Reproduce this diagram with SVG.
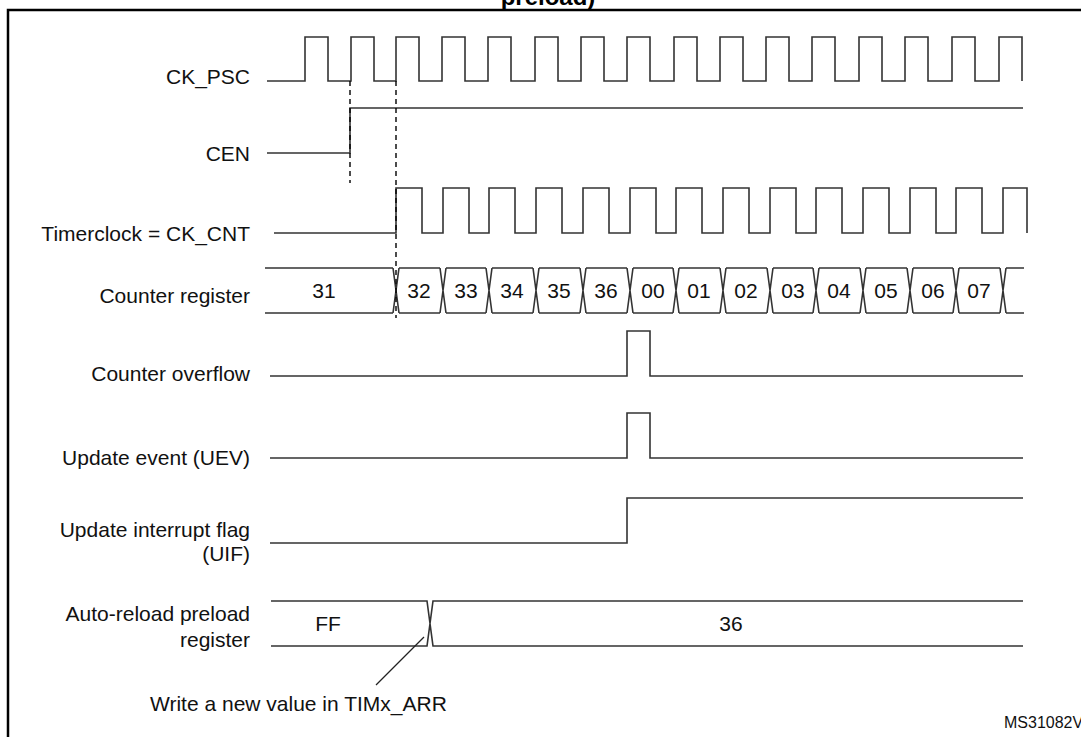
<svg xmlns="http://www.w3.org/2000/svg" width="1081" height="737" viewBox="0 0 1081 737">
<style>
.s{fill:none;stroke:#333;stroke-width:1.6}
.d{fill:none;stroke:#000;stroke-width:1.4;stroke-dasharray:5,4}
.l{font-family:"Liberation Sans",Arial,sans-serif;font-size:21px;fill:#111;text-anchor:end}
.v{font-family:"Liberation Sans",Arial,sans-serif;font-size:21px;fill:#111;text-anchor:middle}
</style>
<rect width="1081" height="737" fill="#fff"/>
<path d="M8 737V10H1081" fill="none" stroke="#000" stroke-width="2.5"/>
<text x="548" y="5" font-family="Liberation Sans,Arial,sans-serif" font-size="24" font-weight="bold" text-anchor="middle">preload)</text>
<g id="labels">
<text class="l" x="250" y="84">CK_PSC</text>
<text class="l" x="250" y="161">CEN</text>
<text class="l" x="250" y="241">Timerclock = CK_CNT</text>
<text class="l" x="250" y="303">Counter register</text>
<text class="l" x="250" y="381">Counter overflow</text>
<text class="l" x="250" y="465">Update event (UEV)</text>
<text class="l" x="250" y="537">Update interrupt flag</text>
<text class="l" x="250" y="561">(UIF)</text>
<text class="l" x="250" y="621">Auto-reload preload</text>
<text class="l" x="250" y="647">register</text>
</g>
<g id="ck_psc"><path class="s" d="M267 81H305V37H328V81H351V37H374V81H396V37H419V81H442V37H465V81H488V37H511V81H535V37H558V81H581V37H604V81H627V37H650V81H674V37H697V81H720V37H743V81H766V37H789V81H812V37H835V81H859V37H882V81H905V37H928V81H952V37H975V81H999V37H1022V81"/></g>
<g id="cen"><path class="s" d="M267 153H350V108H1023"/></g>
<g id="ck_cnt"><path class="s" d="M274 233H396V188H422V233H443V188H469V233H489V188H515V233H536V188H562V233H583V188H609V233H630V188H656V233H676V188H702V233H723V188H749V233H770V188H796V233H816V188H842V233H863V188H889V233H910V188H936V233H956V188H982V233H1003V188H1027V233"/></g>
<g id="counter">
<path class="s" d="M265 268H393M399 268H440M446 268H486M492 268H533M539 268H580M586 268H627M633 268H673M679 268H720M726 268H767M773 268H813M819 268H860M866 268H907M913 268H953M959 268H1000M1006 268H1024M265 313H393M399 313H440M446 313H486M492 313H533M539 313H580M586 313H627M633 313H673M679 313H720M726 313H767M773 313H813M819 313H860M866 313H907M913 313H953M959 313H1000M1006 313H1024M393 268L399 313M393 313L399 268M440 268L446 313M440 313L446 268M486 268L492 313M486 313L492 268M533 268L539 313M533 313L539 268M580 268L586 313M580 313L586 268M627 268L633 313M627 313L633 268M673 268L679 313M673 313L679 268M720 268L726 313M720 313L726 268M767 268L773 313M767 313L773 268M813 268L819 313M813 313L819 268M860 268L866 313M860 313L866 268M907 268L913 313M907 313L913 268M953 268L959 313M953 313L959 268M1000 268L1006 313M1000 313L1006 268"/>
<text class="v" x="324" y="298">31</text>
<text class="v" x="419" y="298">32</text>
<text class="v" x="466" y="298">33</text>
<text class="v" x="512" y="298">34</text>
<text class="v" x="559" y="298">35</text>
<text class="v" x="606" y="298">36</text>
<text class="v" x="653" y="298">00</text>
<text class="v" x="699" y="298">01</text>
<text class="v" x="746" y="298">02</text>
<text class="v" x="793" y="298">03</text>
<text class="v" x="839" y="298">04</text>
<text class="v" x="886" y="298">05</text>
<text class="v" x="933" y="298">06</text>
<text class="v" x="979" y="298">07</text>
</g>
<g id="overflow"><path class="s" d="M270 376H627V331H650V376H1023"/></g>
<g id="uev"><path class="s" d="M270 458H627V413H650V458H1023"/></g>
<g id="uif"><path class="s" d="M270 543H627V498H1023"/></g>
<g id="arr">
<path class="s" d="M271 601H427L433 646H1023M271 646H427L433 601H1023"/>
<text class="v" x="328" y="631">FF</text>
<text class="v" x="731" y="631">36</text>
</g>
<g id="connectors">
<path class="d" d="M350 81V183M396 81V318"/>
<path d="M376 685L424 637" fill="none" stroke="#222" stroke-width="1.2"/>
</g>
<text x="150" y="711" font-family="Liberation Sans,Arial,sans-serif" font-size="21" fill="#111">Write a new value in TIMx_ARR</text>
<text x="1004" y="728" font-family="Liberation Sans,Arial,sans-serif" font-size="16" fill="#111">MS31082V2</text>
</svg>
